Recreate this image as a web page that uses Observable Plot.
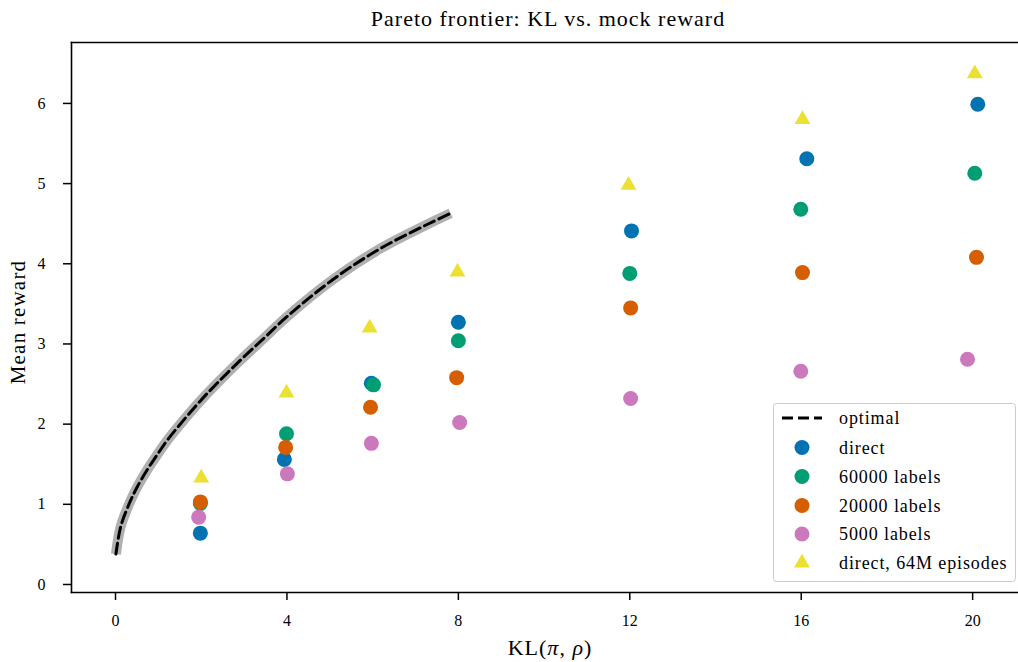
<!DOCTYPE html>
<html><head><meta charset="utf-8">
<script src="https://cdn.jsdelivr.net/npm/d3@7"></script>
<script src="https://cdn.jsdelivr.net/npm/@observablehq/plot@0.6"></script>
<style>
body{margin:0;background:#fff;}
#chart{position:relative;width:1018px;height:662px;}
</style>
</head><body><div id="chart"></div>
<script>
// ---- data ----
const title = "Pareto frontier: KL vs. mock reward";
const xTicks = [0, 4, 8, 12, 16, 20];
const yTicks = [0, 1, 2, 3, 4, 5, 6];

// optimal frontier (dashed) with its grey halo
const optX = [0.01, 0.12, 0.33, 0.50, 0.74, 0.95, 1.21, 1.59, 1.98, 2.37, 2.92, 3.46, 4.00, 5.09, 6.18, 7.27, 7.82];
const optY = [0.38, 0.72, 1.02, 1.21, 1.43, 1.60, 1.80, 2.05, 2.29, 2.51, 2.80, 3.07, 3.34, 3.81, 4.19, 4.49, 4.63];

// series
const directX = [1.98, 3.94, 5.97, 8.00, 12.04, 16.13, 20.12];
const directY = [0.64, 1.56, 2.51, 3.27, 4.41, 5.31, 5.99];
const l60kX   = [1.98, 3.99, 6.02, 8.00, 12.00, 15.99, 20.05];
const l60kY   = [1.01, 1.88, 2.49, 3.04, 3.88, 4.68, 5.13];
const l20kX   = [1.98, 3.97, 5.95, 7.96, 12.02, 16.03, 20.09];
const l20kY   = [1.03, 1.71, 2.21, 2.58, 3.45, 3.89, 4.08];
const l5kX    = [1.94, 4.01, 5.97, 8.03, 12.02, 15.99, 19.88];
const l5kY    = [0.84, 1.38, 1.76, 2.02, 2.32, 2.66, 2.81];
const d64X    = [2.00, 3.99, 5.93, 7.98, 11.97, 16.03, 20.05];
const d64Y    = [1.33, 2.39, 3.20, 3.90, 4.98, 5.80, 6.37];

const seriesNames = ["direct", "60000 labels", "20000 labels", "5000 labels", "direct, 64M episodes"];
const seriesColors = ["#0173b2", "#029e73", "#d55e00", "#cc78bc", "#ece133"];

// ---- build tables ----
const opt = optX.map((x, i) => ({x, y: optY[i]}));
const toPts = (xs, ys, s) => xs.map((x, i) => ({x, y: ys[i], s}));
const circleSeries = [
  toPts(directX, directY, seriesNames[0]),
  toPts(l60kX, l60kY, seriesNames[1]),
  toPts(l20kX, l20kY, seriesNames[2]),
  toPts(l5kX, l5kY, seriesNames[3])
];
const triPts = toPts(d64X, d64Y, seriesNames[4]);

const font = "'Liberation Serif', 'DejaVu Serif', serif";

const chart = Plot.plot({
  width: 1018, height: 662,
  marginLeft: 71, marginRight: 0, marginTop: 42, marginBottom: 70,
  style: {fontFamily: font, fontSize: "16px", background: "white", color: "black"},
  x: {domain: [-1.027, 21.07]},
  y: {domain: [-0.10, 6.76]},
  marks: [
    Plot.line(opt, {x: "x", y: "y", stroke: "#b0b0b0", strokeWidth: 10, curve: "catmull-rom", strokeLinecap: "butt"}),
    Plot.line(opt, {x: "x", y: "y", stroke: "black", strokeWidth: 3, strokeDasharray: "11,5", curve: "catmull-rom"}),
    ...circleSeries.map((pts, i) => Plot.dot(pts, {x: "x", y: "y", r: 7.5, fill: seriesColors[i], stroke: "none"})),
    Plot.dot(triPts, {x: "x", y: "y", r: 5.9, symbol: "triangle", fill: seriesColors[4], stroke: "none"}),
    Plot.axisX({ticks: xTicks, tickSize: 8, tickPadding: 14, strokeWidth: 1.5, label: null, tickFormat: d => d}),
    Plot.axisY({ticks: yTicks, tickSize: 8, tickPadding: 18, strokeWidth: 1.5, label: null, tickFormat: d => d}),
    Plot.frame({anchor: "left", strokeWidth: 1.6}),
    Plot.frame({anchor: "top", strokeWidth: 1.6}),
    Plot.frame({anchor: "bottom", strokeWidth: 1.6})
  ]
});
document.getElementById("chart").appendChild(chart);

// ---- texts & legend drawn into the SVG ----
const svg = d3.select(chart);
svg.append("text").attr("x", 548).attr("y", 26).attr("text-anchor", "middle")
  .attr("font-family", font).attr("font-size", 22).attr("letter-spacing", "1px")
  .attr("fill", "black").text(title);

const xl = svg.append("text").attr("x", 550).attr("y", 655).attr("text-anchor", "middle")
  .attr("font-family", font).attr("font-size", 22).attr("letter-spacing", "1px").attr("fill", "black");
xl.append("tspan").text("KL(");
xl.append("tspan").attr("font-style", "italic").text("π");
xl.append("tspan").text(", ");
xl.append("tspan").attr("font-style", "italic").text("ρ");
xl.append("tspan").text(")");

svg.append("text").attr("transform", "translate(25,322) rotate(-90)").attr("text-anchor", "middle")
  .attr("font-family", font).attr("font-size", 21).attr("letter-spacing", "1.2px")
  .attr("fill", "black").text("Mean reward");

// legend
const lg = svg.append("g").attr("font-family", font).attr("font-size", 18)
  .attr("letter-spacing", "0.9px").attr("text-anchor", "start");
lg.append("rect").attr("x", 773.5).attr("y", 403.5).attr("width", 242).attr("height", 178)
  .attr("rx", 3).attr("fill", "white").attr("fill-opacity", 0.85).attr("stroke", "#cccccc").attr("stroke-width", 1);
const rowY = [418, 447.5, 476.5, 505.5, 534, 563];
const legendLabels = ["optimal", ...seriesNames];
lg.append("line").attr("x1", 782).attr("x2", 822).attr("y1", rowY[0]).attr("y2", rowY[0])
  .attr("stroke", "black").attr("stroke-width", 3).attr("stroke-dasharray", "11,5");
seriesNames.forEach((n, i) => {
  const y = rowY[i + 1];
  if (i < 4) {
    lg.append("circle").attr("cx", 802).attr("cy", y).attr("r", 7.5).attr("fill", seriesColors[i]);
  } else {
    lg.append("path").attr("transform", `translate(802,${y})`)
      .attr("d", d3.symbol(d3.symbolTriangle, Math.PI * 5.9 * 5.9)()).attr("fill", seriesColors[i]);
  }
});
legendLabels.forEach((t, i) => {
  lg.append("text").attr("x", 839).attr("y", rowY[i]).attr("dy", "0.35em").attr("fill", "black").text(t);
});
</script>
</body></html>
